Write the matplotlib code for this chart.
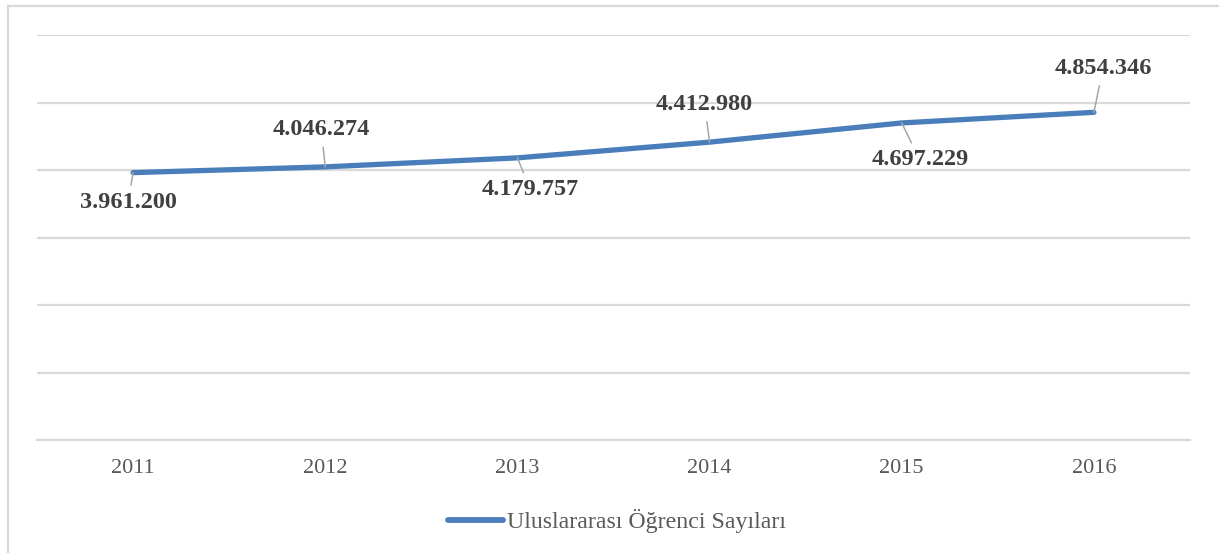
import matplotlib.pyplot as plt
from matplotlib.lines import Line2D

# International student counts per year
years = ["2011", "2012", "2013", "2014", "2015", "2016"]
students = [3961200, 4046274, 4179757, 4412980, 4697229, 4854346]
value_labels = ["3.961.200", "4.046.274", "4.179.757", "4.412.980", "4.697.229", "4.854.346"]
series_name = "Uluslararası Öğrenci Sayıları"

# label offsets in pixels relative to each point (x, y up)
label_offsets = [(-5, -30), (-4, 37), (13, -32), (-5, 38), (18, -37), (9, 44)]

W, H = 1219, 553
fig = plt.figure(figsize=(W / 100, H / 100), dpi=100)
ax = fig.add_axes([37 / W, 1 - 440 / H, (1190 - 37) / W, (440 - 35) / H])

serif = ["Liberation Serif", "DejaVu Serif"]
blue = "#4A7EBB"
grid = "#D9D9D9"

x = list(range(len(years)))
ax.plot(x, students, color=blue, lw=3.8, solid_capstyle="round",
        solid_joinstyle="round", label=series_name, zorder=3)

for xi, yi, txt, (dx, dy) in zip(x, students, value_labels, label_offsets):
    ax.annotate(txt, (xi, yi), xytext=(dx, dy), textcoords="offset pixels",
                ha="center", va="center", fontsize=17.5, fontweight="bold",
                family=serif, color="#404040",
                arrowprops=dict(arrowstyle="-", color="#A6A6A6", lw=1.1,
                                shrinkA=3, shrinkB=0), zorder=4)

ax.set_xlim(-0.5, len(years) - 0.5)
ax.set_ylim(0, 6_000_000)
ax.set_yticks(range(0, 6_000_001, 1_000_000))
ax.set_yticklabels([])
ax.tick_params(axis="y", length=0)
ax.set_xticks(x)
ax.set_xticklabels(years, family=serif, fontsize=16, color="#595959")
ax.tick_params(axis="x", length=0, pad=14)
ax.grid(axis="y", color=grid, lw=1.6)
ax.set_axisbelow(True)
for side in ["top", "right", "left"]:
    ax.spines[side].set_visible(False)
ax.spines["bottom"].set_color(grid)
ax.spines["bottom"].set_linewidth(1.6)

leg = fig.legend(loc="center", bbox_to_anchor=(617 / W, 1 - 521 / H),
                 frameon=False, handlelength=2.3, handletextpad=0.15,
                 prop={"family": serif, "size": 17.2})
leg.get_lines()[0].set_linewidth(4.2)
for t in leg.get_texts():
    t.set_color("#595959")

# outer chart border (top and left edges)
fig.add_artist(Line2D([8 / W, 1], [1 - 6 / H, 1 - 6 / H], color=grid, lw=1.6,
                      transform=fig.transFigure))
fig.add_artist(Line2D([8 / W, 8 / W], [0, 1 - 6 / H], color=grid, lw=1.6,
                      transform=fig.transFigure))

fig.savefig("out.png", dpi=100)
